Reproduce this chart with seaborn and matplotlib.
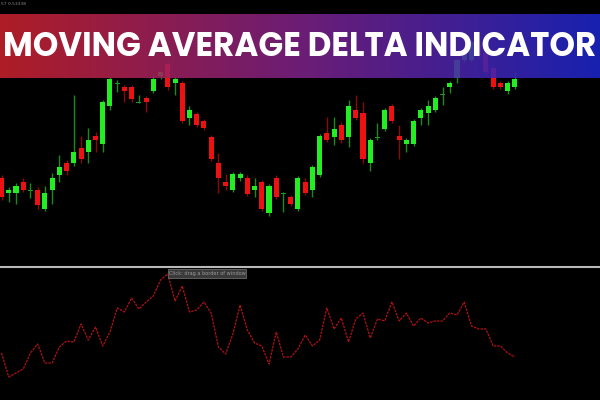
import numpy as np
import pandas as pd
import matplotlib
matplotlib.use("Agg")
import matplotlib.pyplot as plt
from matplotlib.patches import Rectangle
from matplotlib.lines import Line2D
from matplotlib.colors import LinearSegmentedColormap
import seaborn as sns

# ---- data (price in points) ----
opens = [42, 27, 27, 38, 30, 30, 11, 30, 45, 57, 57, 72, 68, 84, 76, 114, 137, 133, 133, 118,
         122, 129, 144, 156, 137, 137, 102, 106, 99, 83, 57, 38, 30, 42, 42, 30, 38, 7, 42, 27,
         23, 11, 38, 30, 45, 87, 83, 95, 83, 110, 107, 57, 83, 91, 114, 84, 76, 76, 102, 107,
         110, 126, 133, 142, 160, 160, 175, 167, 152, 137, 129, 133]
closes = [23, 30, 34, 30, 30.5, 15, 27, 42, 53, 49, 68, 61, 80, 80, 118, 141, 137.5, 129, 121, 118.5,
          118, 141, 148, 133, 141, 99, 110, 95, 92, 61, 42, 34, 46, 46, 26, 34, 11, 34, 23, 27.5,
          16, 42, 27, 53, 84, 80, 91, 80, 114, 102, 61, 80, 83.5, 110, 99, 80, 80, 99, 110, 114,
          122, 126.5, 137, 160, 170, 178, 165, 148, 133, 133, 137, 141]
highs = [45, 33, 37, 42, 37, 33, 34, 47, 65, 60, 125, 84, 92, 88, 120, 143, 140, 135, 135, 125,
         124, 144, 149, 158, 143, 139, 114, 108, 101, 85, 67, 46, 48, 48, 45, 42, 40, 36, 45, 28,
         25, 44, 42, 55, 86, 103, 103, 98, 120, 125, 118, 82, 97, 112, 116, 95, 82, 101, 112, 120,
         124, 133, 139, 162, 172, 180, 178, 170, 154, 139, 139, 148]
lows = [20, 18, 16, 28, 22, 11, 9, 16, 38, 45, 54, 57, 57, 68, 68, 110, 128, 118, 118, 117,
        108, 127, 141, 130, 125, 97, 95, 93, 90, 59, 27, 30, 28, 39, 24, 23, 9, 4, 21, 8,
        14, 9, 25, 23, 43, 78, 75, 77, 73, 100, 57, 49, 80, 89, 97, 61, 68, 74, 95, 95,
        108, 115, 127, 137, 158, 158, 162, 146, 131, 131, 126, 131]
delta = [37, 13, 17, 21, 37, 46, 27, 27, 43, 49, 48, 66, 50, 63, 44, 58, 82, 78, 92, 81,
         88, 94, 110, 116, 89, 104, 78, 80, 88, 77, 43, 36, 56, 85, 60, 47, 44, 26, 58, 33,
         33, 41, 55, 44, 50, 82, 61, 72, 48, 71, 77, 52, 71, 69, 88, 69, 77, 64, 72, 67,
         69, 69, 77, 75, 88, 64, 61, 61, 44, 44, 37, 33]

title_text = "MOVING AVERAGE DELTA INDICATOR"
corner_text = "57 0.53338"
tooltip_text = "Click: drag a border of window"

df = pd.DataFrame({"bar": np.arange(len(opens)), "open": opens, "close": closes,
                   "high": highs, "low": lows, "delta": delta})

sns.set_theme(style="dark", rc={"axes.facecolor": "black", "figure.facecolor": "black"})
plt.rcParams["font.family"] = ["Poppins", "Inter", "DejaVu Sans"]

fig = plt.figure(figsize=(6, 4), dpi=100, facecolor="black")

# ---- price panel ----
ax = fig.add_axes([0, 135 / 400, 1, 265 / 400])
ax.set_facecolor("black")
up = df["close"] >= df["open"]
doji = (df["close"] - df["open"]).abs() < 1
wick_col = np.where(up, "#1b8a1b", "#8a0a0a")
ax.vlines(df["bar"], df["low"], df["high"], colors=wick_col, lw=1, zorder=1)
body_col = np.where(doji, "#1f9a1f", np.where(up, "#22ee22", "#ee1111"))
heights = np.where(doji, 1.0, (df["close"] - df["open"]).abs())
bottoms = np.where(doji, df[["open", "close"]].min(axis=1) - 0.5, df[["open", "close"]].min(axis=1))
ax.bar(df["bar"], heights, bottom=bottoms, width=0.7, color=body_col, edgecolor="none", zorder=2)
ax.set_xlim(-0.21, 82.78)
ax.set_ylim(-45, 220)
ax.axis("off")

# ---- indicator panel ----
ax2 = fig.add_axes([0, 0, 1, 132 / 400])
ax2.set_facecolor("black")
sns.lineplot(data=df, x="bar", y="delta", ax=ax2, color="#b01212", lw=0.9,
             linestyle=(0, (2, 0.8)))
ax2.set_xlim(-0.21, 82.78)
ax2.set_ylim(-10, 122)
ax2.axis("off")

# separator
fig.add_artist(Line2D([0, 1], [133.5 / 400, 133.5 / 400], color="#b8b8b8", lw=1.5))

# tooltip
fig.add_artist(Rectangle((168 / 600, 122 / 400), 78 / 600, 9 / 400, facecolor="#3a3a3a",
                         edgecolor="#6a6a6a", lw=0.6))
fig.text(207 / 600, 126.5 / 400, tooltip_text, color="#9a9a9a", fontsize=3.6,
         ha="center", va="center", family=["DejaVu Sans"])

# corner text
fig.text(1 / 600, 396 / 400, corner_text, color="#8a8a8a", fontsize=3.2, ha="left", va="center",
         family=["DejaVu Sans"])

# ---- banner ----
bax = fig.add_axes([0, (400 - 78) / 400, 1, 64 / 400])
cmap = LinearSegmentedColormap.from_list("ban", ["#c8202c", "#7c2286", "#1c26c8"])
grad = np.linspace(0, 1, 256).reshape(1, -1)
bax.imshow(grad, aspect="auto", cmap=cmap, extent=[0, 1, 0, 1], alpha=0.88)
bax.set_xlim(0, 1)
bax.set_ylim(0, 1)
bax.axis("off")
bax.text(0.5, 0.47, title_text, color="white", fontsize=23.4, fontweight="bold",
         ha="center", va="center")

fig.savefig("out.png", dpi=100, facecolor="black")
